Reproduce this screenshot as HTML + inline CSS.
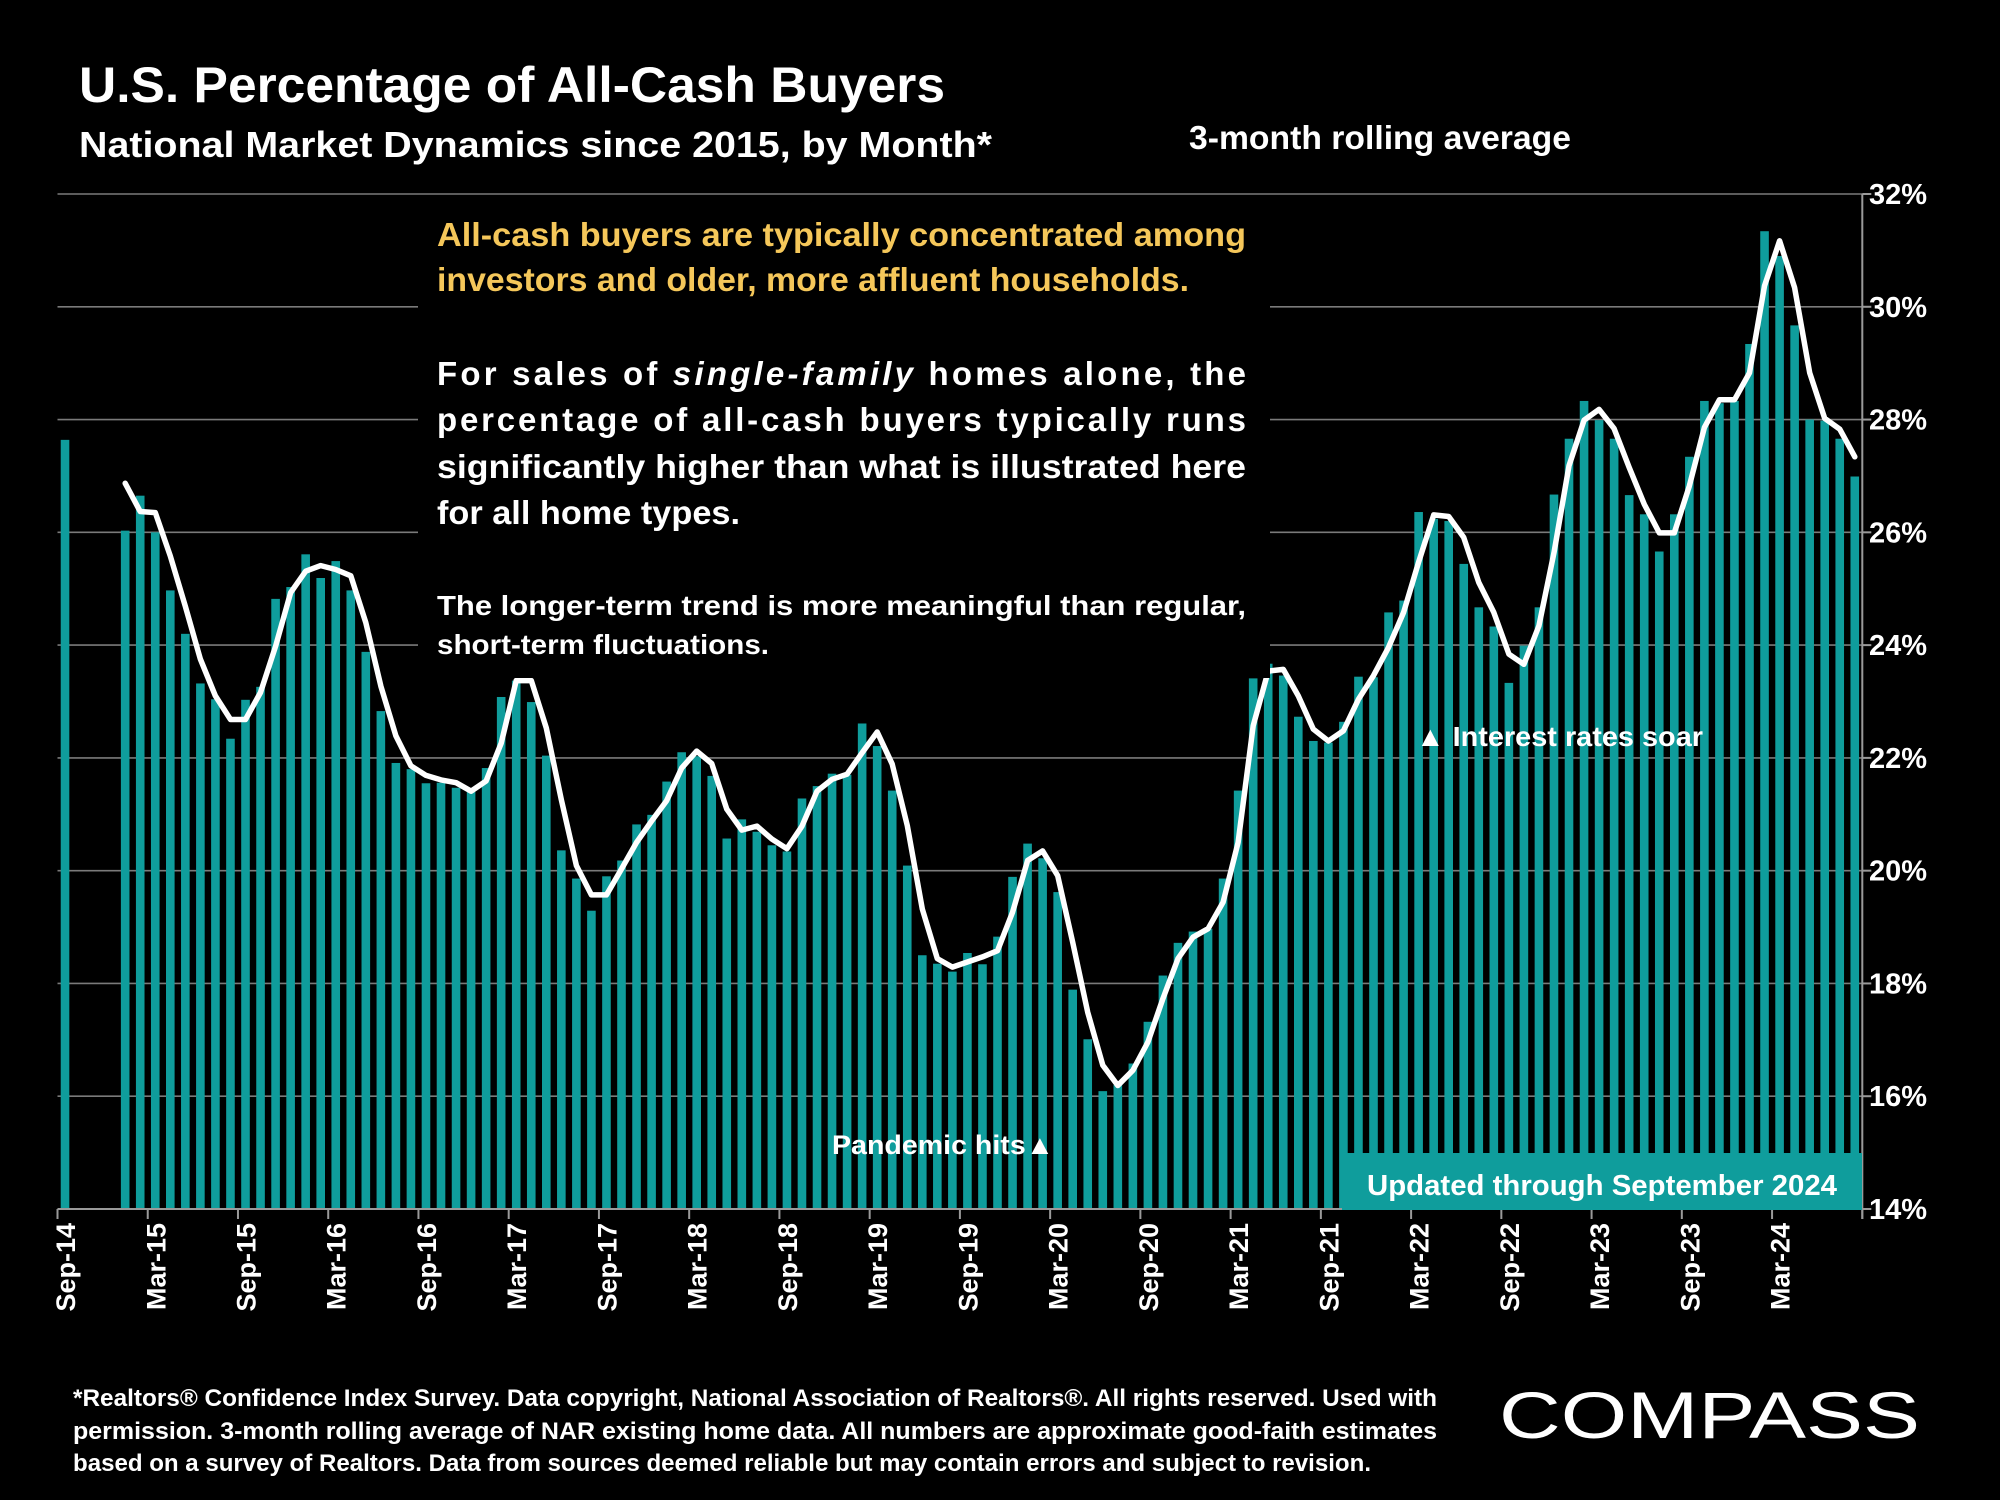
<!DOCTYPE html>
<html>
<head>
<meta charset="utf-8">
<style>
html,body{margin:0;padding:0;background:#000;}
svg{display:block;}
text{font-family:"Liberation Sans",Arial,sans-serif;fill:#fff;}
</style>
</head>
<body>
<svg id="chart" width="2000" height="1500" viewBox="0 0 2000 1500" xmlns="http://www.w3.org/2000/svg">
  <rect x="0" y="0" width="2000" height="1500" fill="#000"/>
  <text x="79" y="102" font-size="50" font-weight="bold" textLength="866" lengthAdjust="spacingAndGlyphs">U.S. Percentage of All-Cash Buyers</text>
  <text x="79" y="157" font-size="36" font-weight="bold" textLength="913" lengthAdjust="spacingAndGlyphs">National Market Dynamics since 2015, by Month*</text>
  <text x="1189" y="149" font-size="33" font-weight="bold" textLength="382" lengthAdjust="spacingAndGlyphs">3-month rolling average</text>

  <g id="grid"></g>
  <g id="bars"></g>
  <g id="line"></g>
  <g id="axes"></g>

  <rect x="418" y="208" width="852" height="470" fill="#000"/>
  <g font-weight="bold">
    <text x="437" y="246" font-size="33" fill="#f5c75a" style="fill:#f5c75a" textLength="809" lengthAdjust="spacingAndGlyphs">All-cash buyers are typically concentrated among</text>
    <text x="437" y="291" font-size="33" style="fill:#f5c75a" textLength="752" lengthAdjust="spacingAndGlyphs">investors and older, more affluent households.</text>
    <text x="437" y="385" font-size="33" textLength="809" lengthAdjust="spacing">For sales of <tspan font-style="italic">single-family</tspan> homes alone, the</text>
    <text x="437" y="431" font-size="33" textLength="809" lengthAdjust="spacing">percentage of all-cash buyers typically runs</text>
    <text x="437" y="478" font-size="33" textLength="809" lengthAdjust="spacingAndGlyphs">significantly higher than what is illustrated here</text>
    <text x="437" y="524" font-size="33" textLength="303" lengthAdjust="spacingAndGlyphs">for all home types.</text>
    <text x="437" y="615" font-size="28" textLength="809" lengthAdjust="spacingAndGlyphs">The longer-term trend is more meaningful than regular,</text>
    <text x="437" y="654" font-size="28" textLength="332" lengthAdjust="spacingAndGlyphs">short-term fluctuations.</text>
  </g>

  <text x="832" y="1154" font-size="27" font-weight="bold" textLength="222" lengthAdjust="spacingAndGlyphs">Pandemic hits▲</text>
  <text x="1416" y="746" font-size="28" font-weight="bold" textLength="287" lengthAdjust="spacingAndGlyphs">▲ Interest rates soar</text>

  <rect x="1342" y="1153" width="520" height="57" fill="#0f9d9c"/>
  <text x="1602" y="1195" font-size="29" font-weight="bold" text-anchor="middle" textLength="470" lengthAdjust="spacingAndGlyphs">Updated through September 2024</text>

  <g font-size="24" font-weight="bold">
    <text x="73" y="1406" textLength="1364" lengthAdjust="spacingAndGlyphs">*Realtors® Confidence Index Survey. Data copyright, National Association of Realtors®. All rights reserved. Used with</text>
    <text x="73" y="1439" textLength="1364" lengthAdjust="spacingAndGlyphs">permission. 3-month rolling average of NAR existing home data. All numbers are approximate good-faith estimates</text>
    <text x="73" y="1471" textLength="1298" lengthAdjust="spacingAndGlyphs">based on a survey of Realtors. Data from sources deemed reliable but may contain errors and subject to revision.</text>
  </g>
  <text x="1499" y="1438" font-size="66" textLength="421" lengthAdjust="spacingAndGlyphs">COMPASS</text>
</svg>
<script>
const barValues = [27.64,null,null,null,26.03,26.65,26.0,24.97,24.2,23.32,23.04,22.34,23.03,23.26,24.82,25.03,25.61,25.19,25.49,24.97,23.88,22.83,21.91,21.8,21.55,21.56,21.47,
21.4,21.82,23.08,23.37,22.99,22.04,20.36,19.86,19.29,19.9,20.18,20.82,20.99,21.58,22.1,22.03,21.68,20.57,20.91,20.69,20.45,20.34,21.28,21.5,21.72,21.7,
22.61,22.21,21.42,20.09,18.5,18.35,18.21,18.54,18.34,18.83,19.89,20.48,20.22,19.62,17.89,17.01,16.09,16.2,16.58,17.32,18.14,18.72,18.92,18.97,19.86,21.42,
23.41,23.67,23.46,22.73,22.3,22.27,22.64,23.44,23.43,24.58,24.79,26.36,26.24,26.2,25.44,24.67,24.33,23.33,23.99,24.67,
26.67,27.66,28.33,27.99,27.66,26.66,26.32,25.66,26.32,27.34,28.33,28.29,28.33,29.34,31.34,30.9,29.67,28.0,27.98,27.66,26.99];
const lineValues = [null,null,null,null,26.87,26.37,26.35,25.58,24.69,23.75,23.1,22.68,22.68,23.16,23.98,24.93,25.31,25.41,25.34,25.23,24.4,23.27,22.39,21.86,21.69,21.61,21.56,
21.41,21.59,22.26,23.37,23.37,22.53,21.26,20.09,19.57,19.57,20.03,20.5,20.88,21.24,21.82,22.12,21.9,21.09,20.72,20.79,20.56,20.39,20.79,21.41,21.62,21.71,
22.09,22.46,21.89,20.8,19.32,18.44,18.29,18.38,18.47,18.58,19.26,20.18,20.35,19.91,18.73,17.49,16.55,16.19,16.46,16.96,17.73,18.44,18.82,18.97,19.44,20.5,
22.57,23.54,23.57,23.1,22.51,22.3,22.48,23.04,23.46,23.96,24.58,25.47,26.31,26.28,25.91,25.11,24.58,23.84,23.66,24.34,25.64,
27.18,27.99,28.18,27.84,27.15,26.5,25.99,25.99,26.82,27.86,28.35,28.35,28.83,30.37,31.17,30.34,28.83,28.02,27.83,27.34];
const xTickLabels = ["Sep-14","Mar-15","Sep-15","Mar-16","Sep-16","Mar-17","Sep-17","Mar-18","Sep-18","Mar-19","Sep-19","Mar-20","Sep-20","Mar-21","Sep-21","Mar-22","Sep-22","Mar-23","Sep-23","Mar-24"];
const yTickValues = [14,16,18,20,22,24,26,28,30,32];

const NS = "http://www.w3.org/2000/svg";
const PL = 57.5, PR = 1862.3, PT = 194, PB = 1209, YMIN = 14, YMAX = 32;
const N = barValues.length;
const band = (PR - PL) / N;
function xc(i){ return PL + band * (i + 0.5); }
function yv(v){ return PB - (v - YMIN) / (YMAX - YMIN) * (PB - PT); }
function mk(tag, attrs, parent){ const e = document.createElementNS(NS, tag); for (const k in attrs) e.setAttribute(k, attrs[k]); parent.appendChild(e); return e; }

const grid = document.getElementById('grid');
yTickValues.forEach(v => {
  if (v === YMIN) return;
  const l = mk('line', {x1: PL, x2: PR, y1: yv(v), y2: yv(v), stroke: '#7a7a7a', 'stroke-width': 1.6}, grid);
  
  
});

const bars = document.getElementById('bars');
const bw = 8.6;
barValues.forEach((v, i) => {
  if (v === null) return;
  const r = mk('rect', {x: xc(i) - bw/2, y: yv(v), width: bw, height: PB - yv(v), fill: '#0f9d9c'}, bars);
  
  
});

const lineG = document.getElementById('line');
let d = '';
lineValues.forEach((v, i) => {
  if (v === null) return;
  d += (d ? 'L' : 'M') + xc(i).toFixed(1) + ' ' + yv(v).toFixed(1) + ' ';
});
const p = mk('path', {d: d, fill: 'none', stroke: '#fff', 'stroke-width': 5.5, 'stroke-linejoin': 'round', 'stroke-linecap': 'round'}, lineG);



const axes = document.getElementById('axes');
const xa = mk('line', {x1: PL, x2: PR, y1: PB, y2: PB, stroke: '#9a9a9a', 'stroke-width': 2}, axes);


const ya = mk('line', {x1: PR, x2: PR, y1: PT, y2: PB, stroke: '#9a9a9a', 'stroke-width': 2}, axes);


for (let k = 0; k <= N; k += 6) {
  const x = PL + band * k;
  const t = mk('line', {x1: x, x2: x, y1: PB, y2: PB + 10, stroke: '#9a9a9a', 'stroke-width': 2}, axes);
  
  
}
mk('line', {x1: PR, x2: PR, y1: PB, y2: PB + 10, stroke: '#9a9a9a', 'stroke-width': 2}, axes);
xTickLabels.forEach((lab, j) => {
  const x = xc(j * 6) + 10;
  const t = mk('text', {x: 0, y: 0, 'font-size': 27, 'font-weight': 'bold', 'text-anchor': 'end', transform: 'translate(' + x.toFixed(1) + ',' + (PB + 14) + ') rotate(-90)'}, axes);
  t.textContent = lab;
  
  
});
yTickValues.forEach(v => {
  const tk = mk('line', {x1: PR, x2: PR + 9, y1: yv(v), y2: yv(v), stroke: '#9a9a9a', 'stroke-width': 2}, axes);
  
  
  const t = mk('text', {x: 1869, y: yv(v) + 10, 'font-size': 29, 'font-weight': 'bold'}, axes);
  t.textContent = v + '%';
  
  
});
</script>
</body>
</html>
